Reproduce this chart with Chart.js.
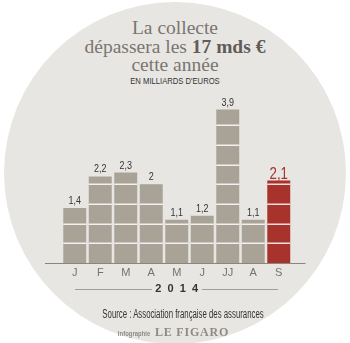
<!DOCTYPE html>
<html>
<head>
<meta charset="utf-8">
<script src="https://cdn.jsdelivr.net/npm/chart.js@4"></script>
<style>
  html, body { margin: 0; padding: 0; background: #fff; }
  #wrap { position: relative; width: 350px; height: 343px; overflow: hidden; }
  #rond { position: absolute; left: 4px; top: 2px; width: 342px; height: 342px; border-radius: 50%; background: #e8e6e3; }
  #titre { position: absolute; left: 0; top: 19px; width: 350px; text-align: center;
    font-family: "Liberation Serif", serif; font-size: 19.5px; line-height: 18.5px; color: #7a756f; }
  #titre b { color: #615c57; }
  #unite { position: absolute; left: 0; top: 76px; width: 350px; text-align: center;
    font-family: "Liberation Sans", sans-serif; font-size: 9px; color: #333;
    transform: scaleX(0.85); }
  #source { position: absolute; left: 8px; top: 307px; width: 350px; text-align: center;
    font-family: "Liberation Sans", sans-serif; font-size: 12px; color: #333;
    transform: scaleX(0.65); }
  #credit { position: absolute; left: -3px; top: 322px; width: 350px; text-align: center; color: #8f8a84; }
  #credit .i { display: inline-block; font-family: "Liberation Sans", sans-serif; font-weight: bold; font-size: 7px; margin-right: 2px; transform: scaleX(0.85); }
  #credit .f { font-family: "Liberation Serif", serif; font-weight: bold; font-size: 12px; letter-spacing: 0.8px; }
  canvas { position: absolute; left: 0; top: 0; }
</style>
</head>
<body>
<div id="wrap">
  <div id="rond"></div>
  <div id="titre">La collecte<br>dépassera les <b>17 mds €</b><br>cette année</div>
  <div id="unite">EN MILLIARDS D'EUROS</div>
  <canvas id="graphe" width="350" height="343"></canvas>
  <div id="source">Source : Association française des assurances</div>
  <div id="credit"><span class="i">Infographie</span><span class="f">LE FIGARO</span></div>
</div>
<script>
// Collecte mensuelle 2014, en milliards d'euros
const mois = ['J', 'F', 'M', 'A', 'M', 'J', 'JJ', 'A', 'S'];
const valeurs = [1.4, 2.2, 2.3, 2, 1.1, 1.2, 3.9, 1.1, 2.1];
const annee = '2  0  1  4';

const GRIS = '#a9a296';
const ROUGE = '#a8332d';
const couleurs = valeurs.map((v, i) => i === valeurs.length - 1 ? ROUGE : GRIS);

const police = "'Liberation Sans', sans-serif";

// lignes blanches dans les barres, axe et etiquettes
const decor = {
    id: 'decor',
    afterDatasetsDraw(chart) {
        const ctx = chart.ctx;
        const y = chart.scales.y;
        const meta = chart.getDatasetMeta(0);
        ctx.save();

        // traits blancs tous les 0,5
        ctx.strokeStyle = 'rgba(255,255,255,0.85)';
        ctx.lineWidth = 1.5;
        meta.data.forEach((bar, i) => {
            for (let v = 0.5; v < valeurs[i] - 0.05; v += 0.5) {
                const py = Math.round(y.getPixelForValue(v)) + 0.25;
                ctx.beginPath();
                ctx.moveTo(bar.x - bar.width / 2, py);
                ctx.lineTo(bar.x + bar.width / 2, py);
                ctx.stroke();
            }
        });

        // axe horizontal
        const base = y.getPixelForValue(0);
        ctx.strokeStyle = '#8a857f';
        ctx.lineWidth = 1;
        ctx.beginPath();
        ctx.moveTo(chart.chartArea.left - 17, base + 0.5);
        ctx.lineTo(chart.chartArea.right + 14, base + 0.5);
        ctx.stroke();

        // valeurs (texte etroit)
        ctx.textAlign = 'center';
        ctx.textBaseline = 'alphabetic';
        meta.data.forEach((bar, i) => {
            const txt = String(valeurs[i]).replace('.', ',');
            const rouge = i === valeurs.length - 1;
            ctx.save();
            ctx.translate(bar.x, rouge ? bar.y - 1 : bar.y - 4);
            ctx.scale(0.78, 1);
            ctx.fillStyle = rouge ? ROUGE : '#333';
            ctx.font = (rouge ? '17px ' : '11.5px ') + police;
            ctx.fillText(txt, 0, 0);
            ctx.restore();
        });

        // traits de part et d'autre de 2014
        const ty = 289.5;
        ctx.strokeStyle = '#a39e98';
        ctx.beginPath();
        ctx.moveTo(75, ty); ctx.lineTo(152, ty);
        ctx.moveTo(202, ty); ctx.lineTo(278, ty);
        ctx.stroke();
        ctx.restore();
    }
};

new Chart(document.getElementById('graphe'), {
    type: 'bar',
    data: {
        labels: mois,
        datasets: [{
            data: valeurs,
            backgroundColor: couleurs,
            borderWidth: 0,
            barPercentage: 0.9,
            categoryPercentage: 1
        }]
    },
    options: {
        responsive: false,
        animation: false,
        layout: { padding: { top: 86, left: 62, right: 58.5, bottom: 47.6 } },
        plugins: { legend: { display: false }, tooltip: { enabled: false } },
        scales: {
            y: { display: false, min: 0, max: 4.5 },
            x: {
                grid: { display: false, drawTicks: false, tickLength: 0 },
                border: { display: false },
                ticks: { color: '#77726c', padding: 3, font: { family: police, size: 11 } },
                title: {
                    display: true, text: annee, color: '#333', padding: { top: 0, bottom: 0 },
                    font: { family: police, size: 11, weight: 'bold' }
                }
            }
        }
    },
    plugins: [decor]
});
</script>
</body>
</html>
